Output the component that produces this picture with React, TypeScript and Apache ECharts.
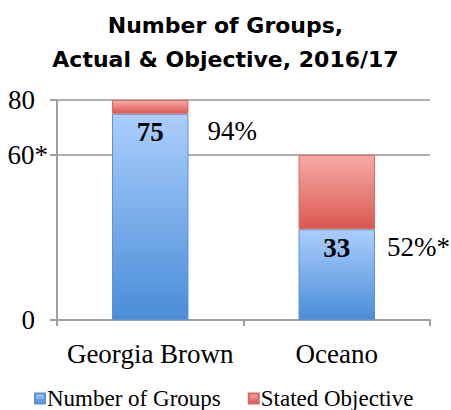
import React, { useEffect, useRef } from "react";
import * as echarts from "echarts";

const categories = ["Georgia Brown", "Oceano"];
const actualGroups = [75, 33];
const objectiveRemainder = [5, 27];
const pctLabels = ["94%", "52%*"];
const yTickValues = [0, 60, 80];
const yTickLabels = ["0", "60", "80"];
const yTickMarks = ["", "*", ""];
const seriesNames = ["Number of Groups", "Stated Objective"];
const titleText = "Number of Groups,\nActual & Objective, 2016/17";

const SERIF = "'Liberation Serif', 'Times New Roman', serif";
const SANS = "'DejaVu Sans', 'Liberation Sans', Arial, sans-serif";

const blueGrad = new echarts.graphic.LinearGradient(0, 0, 0, 1, [
  { offset: 0, color: "#abcefc" },
  { offset: 1, color: "#4a8dd8" },
]);
const redGrad = new echarts.graphic.LinearGradient(0, 0, 0, 1, [
  { offset: 0, color: "#f6aaa6" },
  { offset: 1, color: "#da5850" },
]);

export default function App() {
  const ref = useRef<HTMLDivElement>(null);
  useEffect(() => {
    if (!ref.current) return;
    const chart = echarts.init(ref.current, null, { renderer: "svg" });
    const pctOffsets = [[19, 0], [12, 0]];
    chart.setOption({
      animation: false,
      title: {
        text: titleText,
        left: "center",
        top: 3,
        textStyle: {
          fontFamily: SANS,
          fontWeight: "bold",
          fontSize: 22,
          lineHeight: 34,
          color: "#000",
        },
      },
      legend: {
        data: seriesNames,
        left: 29,
        bottom: -5,
        itemWidth: 10,
        itemHeight: 10,
        itemGap: 27,
        icon: "rect",
        textStyle: { fontFamily: SERIF, fontSize: 23, color: "#000", padding: [6, 0, 0, -3] },
      },
      grid: { left: 57, right: 21, top: 100, bottom: 90, outerBoundsMode: "none" },
      xAxis: {
        type: "category",
        data: categories,
        axisLine: { lineStyle: { color: "#a0a0a0", width: 2 } },
        axisTick: { show: true, length: 6, lineStyle: { color: "#a0a0a0", width: 2 } },
        axisLabel: { interval: 0, fontFamily: SERIF, fontSize: 27, color: "#000", margin: 20 },
      },
      yAxis: {
        type: "value",
        min: 0,
        max: 80,
        axisLine: { show: true, lineStyle: { color: "#a0a0a0", width: 2 } },
        axisTick: {
          show: true,
          length: 7,
          customValues: yTickValues,
          lineStyle: { color: "#a0a0a0", width: 2 },
        },
        axisLabel: {
          customValues: yTickValues,
          formatter: (v: number) => {
            const i = yTickValues.indexOf(v);
            if (i < 0) return "";
            return yTickMarks[i]
              ? `{n|${yTickLabels[i]}}{s|${yTickMarks[i]}}`
              : `{n|${yTickLabels[i]}}{p|}`;
          },
          rich: {
            n: { fontFamily: SERIF, fontSize: 27, color: "#000" },
            s: { fontFamily: SERIF, fontSize: 27, color: "#000" },
            p: { fontFamily: SERIF, fontSize: 27, width: 13 },
          },
          fontFamily: SERIF,
          fontSize: 27,
          color: "#000",
          align: "right",
          margin: 9,
        },
        splitLine: { show: true, lineStyle: { color: "#b0b0b0", width: 2 } },
      },
      series: [
        {
          name: seriesNames[0],
          type: "bar",
          stack: "total",
          barWidth: "41%",
          data: actualGroups,
          itemStyle: { color: blueGrad, borderColor: "#5c93d4", borderWidth: 1 },
          label: {
            show: true,
            position: "insideTop",
            distance: 5,
            fontFamily: SERIF,
            fontWeight: "bold",
            fontSize: 27,
            color: "#000",
          },
        },
        {
          name: seriesNames[1],
          type: "bar",
          stack: "total",
          barWidth: "41%",
          data: objectiveRemainder,
          itemStyle: { color: redGrad, borderColor: "#d86a64", borderWidth: 1 },
        },
        {
          name: "pct",
          type: "bar",
          barWidth: "41%",
          barGap: "-100%",
          silent: true,
          z: 1,
          data: actualGroups.map((v, i) => ({
            value: v,
            label: { offset: pctOffsets[i] },
          })),
          itemStyle: { color: "transparent" },
          label: {
            show: true,
            position: ["100%", 4],
            formatter: (p: any) => pctLabels[p.dataIndex],
            fontFamily: SERIF,
            fontSize: 27,
            color: "#000",
          },
        },
      ],
    });
    return () => chart.dispose();
  }, []);
  return (
    <div
      ref={ref}
      style={{ position: "fixed", left: 0, top: 0, width: 451, height: 410, background: "#fff" }}
    />
  );
}
